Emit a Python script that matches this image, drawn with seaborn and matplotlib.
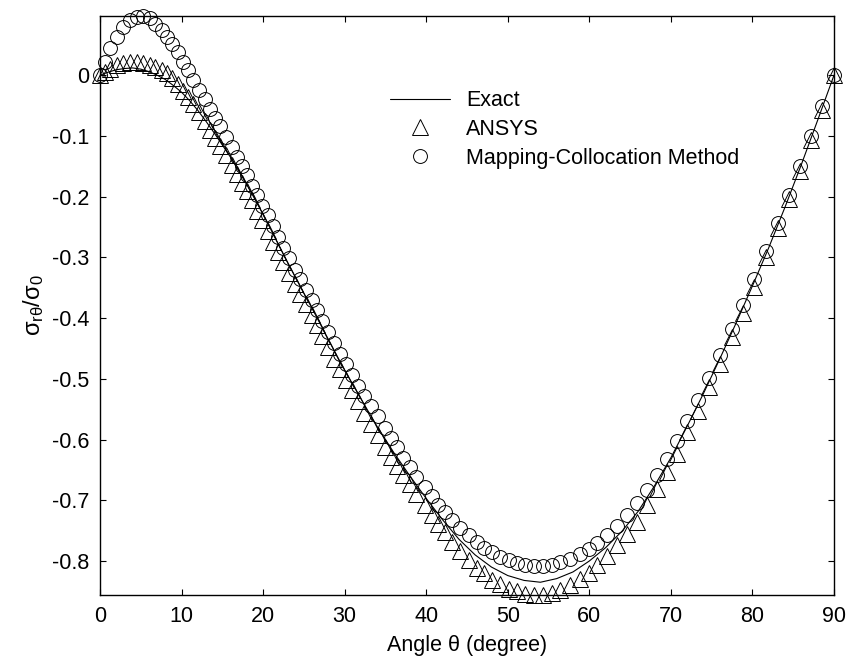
import matplotlib
matplotlib.use('Agg')
import matplotlib.pyplot as plt
import seaborn as sns
from matplotlib.ticker import FixedLocator, FixedFormatter

# ---- data ----
theta_exact = [0, 1, 2, 3, 4, 5, 6, 7, 8, 9, 10, 11, 12, 13, 14, 15, 16,
               18, 20, 22, 24, 26, 28, 30, 32, 34, 36, 38, 40, 42, 44, 46, 48,
               50, 52, 54, 56, 58, 60, 62, 64, 66, 68, 70, 72, 74, 76, 78, 80,
               82, 84, 86, 88, 90]
sigma_exact = [0.0, 0.005, 0.009, 0.011, 0.012, 0.010, 0.006, 0.000, -0.007,
               -0.017, -0.028, -0.042, -0.058, -0.076, -0.095, -0.115, -0.135,
               -0.180, -0.229, -0.282, -0.334, -0.384, -0.435, -0.486, -0.533,
               -0.579, -0.621, -0.660, -0.697, -0.732, -0.764, -0.790, -0.810,
               -0.824, -0.832, -0.835, -0.829, -0.818, -0.800, -0.778, -0.751,
               -0.718, -0.676, -0.630, -0.578, -0.524, -0.467, -0.408, -0.347,
               -0.284, -0.217, -0.147, -0.074, 0.0]

theta_pts = [0, 0.61, 1.23, 2.04, 2.86, 3.68, 4.50, 5.31, 6.13, 6.74,
             7.56, 8.17, 8.79, 9.52, 10.22, 10.83, 11.44, 12.14, 12.87, 13.49,
             14.10, 14.71, 15.41, 16.14, 16.76, 17.37, 17.98, 18.59, 19.29, 19.90,
             20.56, 21.25, 21.87, 22.48, 23.17, 23.91, 24.52, 25.22, 25.95, 26.56,
             27.26, 27.99, 28.73, 29.42, 30.12, 30.85, 31.59, 32.41, 33.23, 34.04,
             34.94, 35.7, 36.4, 37.2, 38.0, 38.8, 39.8, 40.7, 41.5, 42.3,
             43.2, 44.1, 45.2, 46.2, 47.1, 48.1, 49.1, 50.1, 51.1, 52.1,
             53.2, 54.3, 55.4, 56.4, 57.6, 58.8, 59.9, 61.0, 62.2, 63.4,
             64.6, 65.8, 67.1, 68.3, 69.5, 70.7, 72.0, 73.3, 74.7, 76.0,
             77.5, 78.8, 80.2, 81.7, 83.1, 84.5, 85.8, 87.2, 88.5, 90.0]

sigma_ansys = [0.000, 0.005, 0.011, 0.017, 0.020, 0.022, 0.022, 0.020, 0.017, 0.014,
               0.008, 0.003, -0.005, -0.015, -0.026, -0.036, -0.047, -0.061, -0.076, -0.090,
               -0.103, -0.116, -0.131, -0.148, -0.163, -0.177, -0.191, -0.206, -0.224, -0.239,
               -0.256, -0.274, -0.291, -0.307, -0.325, -0.344, -0.360, -0.377, -0.395, -0.411,
               -0.429, -0.448, -0.467, -0.484, -0.502, -0.519, -0.537, -0.556, -0.575, -0.593,
               -0.612, -0.628, -0.643, -0.658, -0.674, -0.689, -0.708, -0.725, -0.739, -0.753,
               -0.768, -0.783, -0.798, -0.811, -0.820, -0.831, -0.838, -0.846, -0.850, -0.854,
               -0.856, -0.856, -0.852, -0.848, -0.840, -0.830, -0.819, -0.806, -0.791, -0.774,
               -0.755, -0.735, -0.707, -0.681, -0.653, -0.623, -0.588, -0.553, -0.513, -0.476,
               -0.431, -0.391, -0.348, -0.300, -0.252, -0.204, -0.158, -0.106, -0.057, 0.000]

sigma_mcm = [0.000, 0.022, 0.044, 0.063, 0.080, 0.091, 0.096, 0.0975, 0.094, 0.085,
             0.074, 0.063, 0.051, 0.039, 0.022, 0.008, -0.008, -0.024, -0.039, -0.055,
             -0.070, -0.084, -0.101, -0.118, -0.134, -0.149, -0.165, -0.182, -0.198, -0.215,
             -0.231, -0.248, -0.267, -0.284, -0.301, -0.320, -0.336, -0.353, -0.371, -0.387,
             -0.405, -0.423, -0.441, -0.459, -0.476, -0.494, -0.512, -0.529, -0.545, -0.562,
             -0.581, -0.597, -0.613, -0.630, -0.646, -0.661, -0.678, -0.693, -0.707, -0.720,
             -0.733, -0.745, -0.758, -0.769, -0.778, -0.786, -0.793, -0.798, -0.803, -0.806,
             -0.808, -0.808, -0.806, -0.802, -0.797, -0.789, -0.780, -0.770, -0.757, -0.742,
             -0.725, -0.705, -0.683, -0.659, -0.632, -0.603, -0.570, -0.535, -0.499, -0.460,
             -0.418, -0.379, -0.336, -0.290, -0.244, -0.197, -0.149, -0.100, -0.051, 0.000]

x_ticks = [0, 10, 20, 30, 40, 50, 60, 70, 80, 90]
y_ticks = [0, -0.1, -0.2, -0.3, -0.4, -0.5, -0.6, -0.7, -0.8]
y_tick_labels = ['0', '-0.1', '-0.2', '-0.3', '-0.4', '-0.5', '-0.6', '-0.7', '-0.8']
series_labels = ['Exact', 'ANSYS', 'Mapping-Collocation Method']
x_label = 'Angle \u03b8 (degree)'
y_label = r'$\sigma_{r\theta}/\sigma_0$'

# ---- style ----
sns.set_style('ticks')
plt.rcParams['font.family'] = ['Liberation Sans', 'DejaVu Sans']
plt.rcParams['mathtext.fontset'] = 'custom'
plt.rcParams['mathtext.rm'] = 'Liberation Sans'
plt.rcParams['mathtext.it'] = 'Liberation Sans'
plt.rcParams['mathtext.bf'] = 'Liberation Sans'
plt.rcParams['axes.unicode_minus'] = False
for key in ['text.color', 'axes.labelcolor', 'xtick.color', 'ytick.color',
            'axes.edgecolor']:
    plt.rcParams[key] = 'black'

FS = 15.5

fig = plt.figure(figsize=(8.47, 6.62), dpi=100)
ax = fig.add_axes([0.11806, 0.10121, 0.86659, 0.87462])

sns.lineplot(x=theta_exact, y=sigma_exact, ax=ax, color='black', linewidth=0.8,
             label=series_labels[0], sort=False, estimator=None)
sns.lineplot(x=theta_pts, y=sigma_ansys, ax=ax, color='black', linestyle='',
             marker='^', markersize=11, markerfacecolor='none',
             markeredgecolor='black', markeredgewidth=0.7,
             label=series_labels[1], sort=False, estimator=None, clip_on=False)
sns.lineplot(x=theta_pts, y=sigma_mcm, ax=ax, color='black', linestyle='',
             marker='o', markersize=10, markerfacecolor='none',
             markeredgecolor='black', markeredgewidth=0.7,
             label=series_labels[2], sort=False, estimator=None, clip_on=False)

ax.set_xlim(min(x_ticks), max(x_ticks))
ax.set_ylim(min(sigma_ansys), max(sigma_mcm))

ax.xaxis.set_major_locator(FixedLocator(x_ticks))
ax.yaxis.set_major_locator(FixedLocator(y_ticks))
ax.yaxis.set_major_formatter(FixedFormatter(y_tick_labels))

ax.tick_params(axis='both', direction='in', length=4, width=0.8, colors='black',
               top=True, right=True, labelsize=FS)
ax.tick_params(axis='y', pad=8)
ax.tick_params(axis='x', pad=8)

for s in ax.spines.values():
    s.set_visible(True)
    s.set_color('black')
    s.set_linewidth(1.0)

ax.set_xlabel(x_label, fontsize=FS, labelpad=6)
ax.set_ylabel(y_label, fontsize=17, labelpad=4)

ax.legend(loc='upper left', bbox_to_anchor=(0.395, 0.872), frameon=False,
          handlelength=2.8, handletextpad=0.75, labelspacing=0.36,
          borderpad=0, borderaxespad=0, fontsize=FS, numpoints=1)

fig.savefig('out.png', dpi=100, facecolor='white')
